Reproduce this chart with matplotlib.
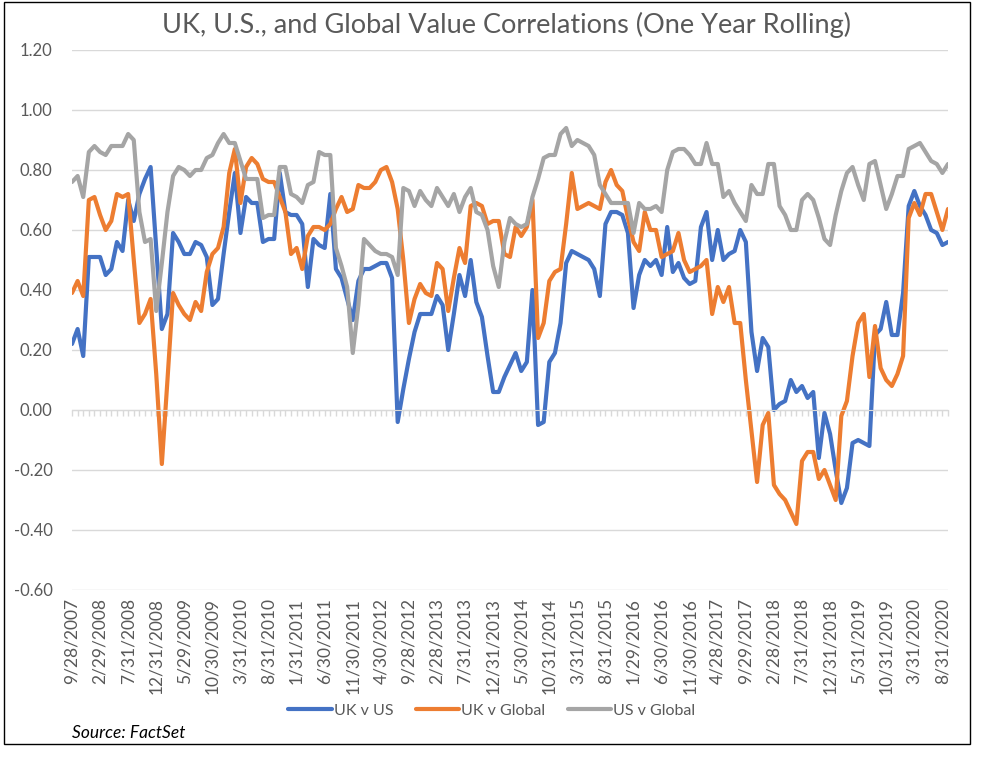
import matplotlib
matplotlib.use("Agg")
import matplotlib.pyplot as plt
from matplotlib.patches import Rectangle

# monthly, 9/2007 .. 9/2020 (157 points)
uk_us = [
    0.22, 0.27, 0.18, 0.51, 0.51, 0.51, 0.45, 0.47, 0.56, 0.53,
    0.70, 0.63, 0.72, 0.77, 0.81, 0.54, 0.27, 0.32, 0.59, 0.56,
    0.52, 0.52, 0.56, 0.55, 0.51, 0.35, 0.37, 0.52, 0.66, 0.79,
    0.59, 0.71, 0.69, 0.69, 0.56, 0.57, 0.57, 0.79, 0.66, 0.65,
    0.65, 0.62, 0.41, 0.57, 0.55, 0.54, 0.72, 0.47, 0.44, 0.37,
    0.30, 0.43, 0.47, 0.47, 0.48, 0.49, 0.49, 0.44, -0.04, 0.07,
    0.17, 0.26, 0.32, 0.32, 0.32, 0.38, 0.35, 0.20, 0.32, 0.45,
    0.38, 0.50, 0.36, 0.31, 0.18, 0.06, 0.06, 0.11, 0.15, 0.19,
    0.13, 0.16, 0.40, -0.05, -0.04, 0.16, 0.19, 0.29, 0.49, 0.53,
    0.52, 0.51, 0.50, 0.47, 0.38, 0.62, 0.66, 0.66, 0.65, 0.59,
    0.34, 0.45, 0.50, 0.48, 0.50, 0.45, 0.61, 0.46, 0.49, 0.44,
    0.42, 0.43, 0.61, 0.66, 0.50, 0.60, 0.50, 0.52, 0.53, 0.60,
    0.56, 0.26, 0.13, 0.24, 0.21, 0.00, 0.02, 0.03, 0.10, 0.06,
    0.08, 0.04, 0.06, -0.16, -0.01, -0.08, -0.20, -0.31, -0.26, -0.11,
    -0.10, -0.11, -0.12, 0.25, 0.27, 0.36, 0.25, 0.25, 0.39, 0.68,
    0.73, 0.68, 0.65, 0.60, 0.59, 0.55, 0.56,
]
uk_global = [
    0.39, 0.43, 0.38, 0.70, 0.71, 0.65, 0.60, 0.63, 0.72, 0.71,
    0.72, 0.50, 0.29, 0.32, 0.37, 0.12, -0.18, 0.10, 0.39, 0.35,
    0.32, 0.30, 0.36, 0.33, 0.46, 0.52, 0.54, 0.61, 0.79, 0.87,
    0.69, 0.81, 0.84, 0.82, 0.77, 0.76, 0.76, 0.71, 0.66, 0.52,
    0.54, 0.47, 0.58, 0.61, 0.61, 0.60, 0.62, 0.67, 0.71, 0.66,
    0.67, 0.75, 0.74, 0.74, 0.76, 0.80, 0.81, 0.76, 0.67, 0.50,
    0.29, 0.37, 0.42, 0.39, 0.38, 0.49, 0.47, 0.33, 0.44, 0.54,
    0.49, 0.68, 0.69, 0.68, 0.62, 0.63, 0.63, 0.52, 0.51, 0.61,
    0.58, 0.61, 0.70, 0.24, 0.29, 0.43, 0.46, 0.47, 0.62, 0.79,
    0.67, 0.68, 0.69, 0.68, 0.67, 0.76, 0.80, 0.75, 0.73, 0.64,
    0.56, 0.53, 0.66, 0.60, 0.60, 0.51, 0.52, 0.53, 0.59, 0.50,
    0.46, 0.47, 0.48, 0.50, 0.32, 0.41, 0.36, 0.41, 0.29, 0.29,
    0.10, -0.07, -0.24, -0.05, -0.01, -0.25, -0.28, -0.30, -0.34, -0.38,
    -0.17, -0.14, -0.14, -0.23, -0.20, -0.25, -0.30, -0.02, 0.03, 0.18,
    0.29, 0.32, 0.11, 0.28, 0.14, 0.10, 0.08, 0.12, 0.18, 0.64,
    0.69, 0.65, 0.72, 0.72, 0.66, 0.60, 0.67,
]
us_global = [
    0.76, 0.78, 0.71, 0.86, 0.88, 0.86, 0.85, 0.88, 0.88, 0.88,
    0.92, 0.90, 0.66, 0.56, 0.57, 0.33, 0.49, 0.66, 0.78, 0.81,
    0.80, 0.78, 0.80, 0.80, 0.84, 0.85, 0.89, 0.92, 0.89, 0.89,
    0.83, 0.77, 0.77, 0.77, 0.64, 0.65, 0.65, 0.81, 0.81, 0.72,
    0.71, 0.69, 0.75, 0.76, 0.86, 0.85, 0.85, 0.54, 0.48, 0.41,
    0.19, 0.35, 0.57, 0.55, 0.53, 0.52, 0.52, 0.51, 0.45, 0.74,
    0.73, 0.68, 0.73, 0.70, 0.68, 0.74, 0.71, 0.68, 0.72, 0.66,
    0.71, 0.74, 0.66, 0.65, 0.60, 0.48, 0.41, 0.56, 0.64, 0.62,
    0.61, 0.62, 0.71, 0.77, 0.84, 0.85, 0.85, 0.92, 0.94, 0.88,
    0.90, 0.89, 0.88, 0.85, 0.75, 0.72, 0.69, 0.69, 0.69, 0.69,
    0.59, 0.69, 0.67, 0.67, 0.68, 0.66, 0.80, 0.86, 0.87, 0.87,
    0.85, 0.82, 0.82, 0.89, 0.82, 0.82, 0.71, 0.73, 0.69, 0.66,
    0.63, 0.75, 0.72, 0.72, 0.82, 0.82, 0.68, 0.65, 0.60, 0.60,
    0.70, 0.72, 0.70, 0.64, 0.57, 0.55, 0.65, 0.73, 0.79, 0.81,
    0.75, 0.70, 0.82, 0.83, 0.75, 0.67, 0.72, 0.78, 0.78, 0.87,
    0.88, 0.89, 0.86, 0.83, 0.82, 0.79, 0.82,
]

# every 5th month gets a label
date_labels = [
    "9/28/2007", "2/29/2008", "7/31/2008", "12/31/2008", "5/29/2009",
    "10/30/2009", "3/31/2010", "8/31/2010", "1/31/2011", "6/30/2011",
    "11/30/2011", "4/30/2012", "9/28/2012", "2/28/2013", "7/31/2013",
    "12/31/2013", "5/30/2014", "10/31/2014", "3/31/2015", "8/31/2015",
    "1/29/2016", "6/30/2016", "11/30/2016", "4/28/2017", "9/29/2017",
    "2/28/2018", "7/31/2018", "12/31/2018", "5/31/2019", "10/31/2019",
    "3/31/2020", "8/31/2020",
]
y_ticks = [-0.6, -0.4, -0.2, 0.0, 0.2, 0.4, 0.6, 0.8, 1.0, 1.2]

FONT = "Lato"
TXT = "#595959"
GRID = "#D9D9D9"

plt.rcParams["font.family"] = [FONT, "DejaVu Sans"]

W, H = 984, 757
fig = plt.figure(figsize=(W / 100, H / 100), dpi=100)
ax = fig.add_axes([72 / W, 1 - 590 / H, (948 - 72) / W, (590 - 50) / H])

x = list(range(len(uk_us)))
series = [(uk_us, "#4472C4", "UK v US"),
          (uk_global, "#ED7D31", "UK v Global"),
          (us_global, "#A5A5A5", "US v Global")]
for vals, col, name in series:
    ax.plot(x, vals, color=col, lw=3.0, label=name,
            solid_joinstyle="round", solid_capstyle="round")

ax.set_xlim(0, len(x) - 1)
ax.set_ylim(-0.6, 1.2)
ax.set_yticks(y_ticks)
ax.set_yticklabels([f"{v:.2f}" for v in y_ticks])
ax.tick_params(axis="y", length=0, pad=14, labelsize=12, labelcolor=TXT)
ax.grid(axis="y", color=GRID, lw=1)
ax.set_axisbelow(True)
for s in ["left", "right", "top"]:
    ax.spines[s].set_visible(False)

# category axis sits at zero, one tick per month
ax.spines["bottom"].set_position(("data", 0))
ax.spines["bottom"].set_color(GRID)
ax.set_xticks(x)
ax.set_xticklabels([])
ax.tick_params(axis="x", length=4, width=1, color=GRID, direction="out")

# date labels at the bottom of the plot area
ax2 = ax.secondary_xaxis("bottom")
ax2.set_xticks(x[::5], date_labels, rotation=90)
ax2.tick_params(length=0, pad=6, labelsize=12.5, labelcolor=TXT)
ax2.spines["bottom"].set_visible(False)

fig.text(506 / W, 1 - 25 / H, "UK, U.S., and Global Value Correlations (One Year Rolling)",
         ha="center", va="center", fontsize=19.5, color=TXT)

fig.legend(loc="center", bbox_to_anchor=(492 / W, 1 - 711 / H), ncol=3,
           frameon=False, fontsize=11.5, handlelength=2.7, handletextpad=0.15,
           columnspacing=1.4, labelcolor=TXT)

fig.text(72 / W, 1 - 733 / H, "Source: FactSet", ha="left", va="center",
         fontsize=12.5, style="italic", color="black")

fig.patches.append(Rectangle((4 / W, 1 - 744 / H), 966 / W, 742 / H,
                             transform=fig.transFigure, fill=False,
                             edgecolor="black", lw=1))

fig.savefig("out.png", dpi=100)
